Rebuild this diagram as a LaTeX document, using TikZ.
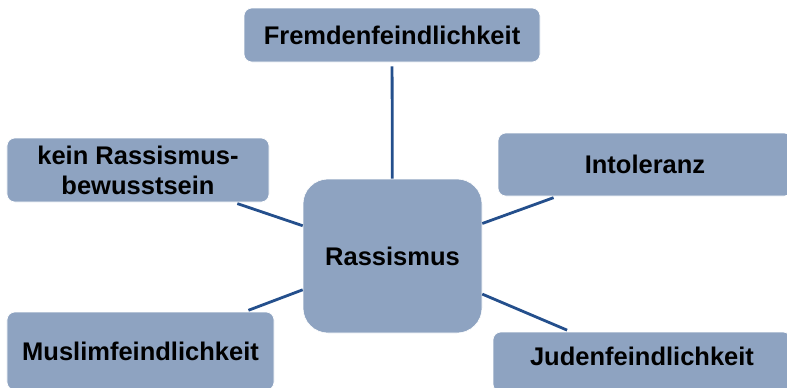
\documentclass[tikz,border=0pt]{standalone}
\usepackage{fontspec}
\setmainfont{Liberation Sans}
\definecolor{boxfill}{RGB}{142,163,193}
\definecolor{linkblue}{RGB}{36,79,140}
\tikzset{
  topic/.style={draw=white, line width=0.6bp, fill=boxfill, rounded corners=8bp,
    inner sep=0pt, align=center, font=\bfseries\fontsize{25.5bp}{30bp}\selectfont, text=black},
  link/.style={draw=linkblue, line width=2.8bp, shorten >=4bp}
}
\begin{document}
\begin{tikzpicture}[x=1bp,y=-1bp]
\useasboundingbox (0,0) rectangle (787,387);
\clip (0,0) rectangle (787,387);
\node[topic, minimum width=179bp, minimum height=154bp, rounded corners=25bp] (R) at (392.5,256) {Rassismus};
\node[topic, minimum width=296bp, minimum height=54bp] (F) at (392,35) {Fremdenfeindlichkeit};
\node[topic, minimum width=262bp, minimum height=64bp] (K) at (138,170) {kein Rassismus-\\bewusstsein};
\node[topic, minimum width=294bp, minimum height=63bp] (I) at (645,164.5) {Intoleranz};
\node[topic, minimum width=267bp, minimum height=78bp] (M) at (140.5,351) {Muslimfeindlichkeit};
\node[topic, minimum width=298bp, minimum height=60bp] (J) at (642,362) {\raisebox{11bp}{Judenfeindlichkeit}};
\draw[link] (R) -- (F);
\draw[link] (R) -- (K);
\draw[link] (R) -- (I);
\draw[link] (R) -- (M);
\draw[link] (R) -- (J);
\end{tikzpicture}
\end{document}
